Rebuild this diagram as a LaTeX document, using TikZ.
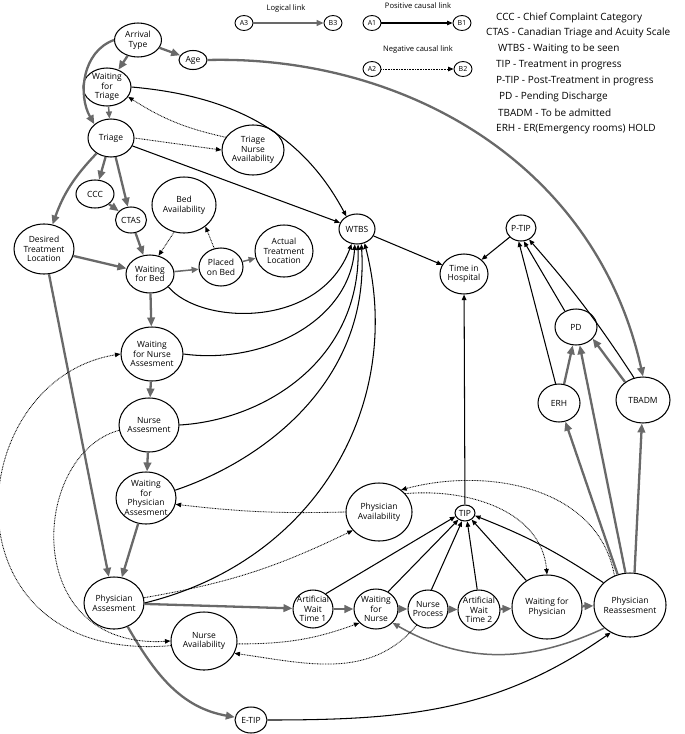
\documentclass[tikz,border=0pt]{standalone}
\usepackage{fontspec}
\setmainfont{Open Sans}
\usetikzlibrary{shapes.geometric,arrows.meta}
\definecolor{lgc}{RGB}{105,105,105}
\begin{document}
\begin{tikzpicture}[x=1pt,y=1pt,
  nd/.style={draw, ellipse, line width=1.05pt, inner sep=-8pt, align=center, font=\fontsize{8.5}{9.7}\selectfont},
  lnd/.style={draw, ellipse, line width=0.9pt, inner sep=-8pt, minimum width=18pt, minimum height=15pt, font=\fontsize{7}{8}\selectfont},
  logiclink/.style={draw=lgc, line width=2.3pt, -{Triangle[length=9pt,width=7.5pt]}},
  logicthin/.style={draw=lgc, line width=1.5pt, -{Triangle[length=7pt,width=6pt]}},
  poslink/.style={draw=black, line width=1.05pt, -{Triangle[length=5.5pt,width=4.5pt]}},
  neglink/.style={draw=black, line width=0.85pt, dash pattern=on 0.8pt off 0.8pt, -{Triangle[length=5.5pt,width=4.5pt]}},
  lt/.style={anchor=west, inner sep=0pt, font=\fontsize{10}{12}\selectfont},
  lh/.style={inner sep=0pt, font=\fontsize{7.6}{9}\selectfont}
]
\useasboundingbox (0,0) rectangle (685,-734);

% ---------- legend ----------
\node[lh] (hl) at (286,-9) {Logical link};
\node[lnd] (a3) at (244,-23) {A3};
\node[lnd] (b3) at (333,-23) {B3};
\draw[logicthin] (a3) -- (b3);
\node[lh] (hp) at (418,-6) {Positive causal link};
\node[lnd] (a1) at (372,-23) {A1};
\node[lnd] (b1) at (462,-23) {B1};
\draw[poslink] (a1) -- (b1);
\node[lh] (hn) at (418,-50) {Negative causal link};
\node[lnd] (a2) at (372,-69) {A2};
\node[lnd] (b2) at (463,-69) {B2};
\draw[neglink] (a2) -- (b2);

\node[lt] (l1) at (496,-18) {CCC - Chief Complaint Category};
\node[lt] (l2) at (486,-33) {CTAS - Canadian Triage and Acuity Scale};
\node[lt] (l3) at (498,-49) {WTBS - Waiting to be seen};
\node[lt] (l4) at (496,-65) {TIP - Treatment in progress};
\node[lt] (l5) at (496,-81) {P-TIP - Post-Treatment in progress};
\node[lt] (l6) at (499,-97) {PD - Pending Discharge};
\node[lt] (l7) at (498,-113) {TBADM - To be admitted};
\node[lt] (l8) at (496,-129) {ERH - ER(Emergency rooms) HOLD};

% ---------- nodes ----------
\node[nd,minimum width=47pt,minimum height=34pt] (at) at (138,-40) {Arrival\\Type};
\node[nd,minimum width=28pt,minimum height=19pt] (age) at (193,-60) {Age};
\node[nd,minimum width=48pt,minimum height=38pt] (wft) at (107,-87) {Waiting\\for\\Triage};
\node[nd,minimum width=46pt,minimum height=38pt] (tri) at (111,-138) {Triage};
\node[nd,minimum width=62pt,minimum height=50pt] (tna) at (253,-150) {Triage\\Nurse\\Availability};
\node[nd,minimum width=38pt,minimum height=28pt] (ccc) at (95,-194) {CCC};
\node[nd,minimum width=31pt,minimum height=26pt] (ctas) at (131,-220) {CTAS};
\node[nd,minimum width=64pt,minimum height=56pt] (bed) at (184,-205) {Bed\\Availability};
\node[nd,minimum width=60pt,minimum height=50pt] (dtl) at (44,-249) {Desired\\Treatment\\Location};
\node[nd,minimum width=58pt,minimum height=52pt] (atl) at (284,-251) {Actual\\Treatment\\Location};
\node[nd,minimum width=48pt,minimum height=38pt] (wfb) at (150,-274) {Waiting\\for Bed};
\node[nd,minimum width=44pt,minimum height=38pt] (pob) at (221,-267) {Placed\\on Bed};
\node[nd,minimum width=62pt,minimum height=54pt] (wfna) at (152,-354) {Waiting\\for Nurse\\Assesment};
\node[nd,minimum width=60pt,minimum height=54pt] (na) at (149,-425) {Nurse\\Assesment};
\node[nd,minimum width=60pt,minimum height=52pt] (wfpa) at (146,-498) {Waiting\\for\\Physician\\Assesment};
\node[nd,minimum width=60pt,minimum height=52pt] (pa) at (114,-603) {Physician\\Assesment};
\node[nd,minimum width=66pt,minimum height=58pt] (nav) at (204,-641) {Nurse\\Availability};
\node[nd,minimum width=40pt,minimum height=38pt] (awt1) at (313,-609) {Artificial\\Wait\\Time 1};
\node[nd,minimum width=32pt,minimum height=26pt] (etip) at (251,-720) {E-TIP};
\node[nd,minimum width=66pt,minimum height=58pt] (pav) at (379,-512) {Physician\\Availability};
\node[nd,minimum width=20pt,minimum height=16pt] (tip) at (465,-513) {TIP};
\node[nd,minimum width=44pt,minimum height=40pt] (wfn) at (376,-609) {Waiting\\for\\Nurse};
\node[nd,minimum width=40pt,minimum height=38pt] (np) at (428,-609) {Nurse\\Process};
\node[nd,minimum width=42pt,minimum height=40pt] (awt2) at (479,-610) {Artificial\\Wait\\Time 2};
\node[nd,minimum width=70pt,minimum height=64pt] (wfp) at (547,-607) {Waiting for\\Physician};
\node[nd,minimum width=72pt,minimum height=64pt] (pr) at (630,-605) {Physician\\Reassesment};
\node[nd,minimum width=36pt,minimum height=30pt] (wtbs) at (357,-229) {WTBS};
\node[nd,minimum width=48pt,minimum height=40pt] (tih) at (464,-274) {Time in\\Hospital};
\node[nd,minimum width=30pt,minimum height=26pt] (ptip) at (521,-228) {P-TIP};
\node[nd,minimum width=42pt,minimum height=36pt] (pd) at (576,-327) {PD};
\node[nd,minimum width=42pt,minimum height=38pt] (erh) at (559,-403) {ERH};
\node[nd,minimum width=54pt,minimum height=46pt] (tbadm) at (643,-400) {TBADM};

% ---------- logical links ----------
\draw[logiclink] (at) -- (age);
\draw[logiclink] (at) -- (wft);
\draw[logiclink] (at.west) to[out=200,in=120] (tri.north west);
\draw[logicthin] (wft) -- (tri);
\draw[logiclink] (age.east) .. controls (400,-55) and (595,-160) .. (tbadm.north);
\draw[logiclink] (tri) -- (ccc);
\draw[logiclink] (tri) -- (ctas);
\draw[logiclink] (ccc) -- (ctas);
\draw[logiclink] (tri) to[bend right=12] (dtl);
\draw[logiclink] (ctas) -- (wfb);
\draw[logiclink] (dtl) -- (wfb);
\draw[logiclink] (dtl) -- (pa);
\draw[logicthin] (wfb) -- (pob);
\draw[logicthin] (pob) -- (atl);
\draw[logiclink] (wfb) -- (wfna);
\draw[logiclink] (wfna) -- (na);
\draw[logiclink] (na) -- (wfpa);
\draw[logiclink] (wfpa) -- (pa);
\draw[logiclink] (pa) -- (awt1);
\draw[logiclink] (pa) to[out=-60,in=170] (etip);
\draw[logiclink] (awt1) -- (wfn);
\draw[logiclink] (wfn) -- (np);
\draw[logiclink] (np) -- (awt2);
\draw[logiclink] (awt2) -- (wfp);
\draw[logiclink] (wfp) -- (pr);
\draw[logicthin] (pr.222) to[out=205,in=-30] (wfn.-40);
\draw[logiclink] (pr.112) -- (erh);
\draw[logiclink] (pr.98) -- (pd);
\draw[logiclink] (pr.82) -- (tbadm);
\draw[logiclink] (erh.75) -- (pd.260);
\draw[logiclink] (tbadm.135) -- (pd.-35);

% ---------- positive causal links ----------
\draw[poslink] (wft.east) to[out=-5,in=118] (wtbs.130);
\draw[poslink] (tri) -- (wtbs);
\draw[poslink] (wfb.-35) .. controls (200,-325) and (320,-330) .. (wtbs.250);
\draw[poslink] (wfna.east) .. controls (265,-365) and (350,-320) .. (wtbs.262);
\draw[poslink] (na.east) .. controls (265,-420) and (360,-360) .. (wtbs.274);
\draw[poslink] (wfpa.15) .. controls (265,-460) and (370,-380) .. (wtbs.286);
\draw[poslink] (pa.east) .. controls (320,-560) and (405,-400) .. (wtbs.298);
\draw[poslink] (wtbs) -- (tih);
\draw[poslink] (ptip) -- (tih);
\draw[poslink] (tip) -- (tih);
\draw[poslink] (erh.100) -- (ptip.-100);
\draw[poslink] (pd.125) -- (ptip.-78);
\draw[poslink] (tbadm.112) to[bend right=4] (ptip.-55);
\draw[poslink] (awt1.50) -- (tip.200);
\draw[poslink] (wfn.55) -- (tip.225);
\draw[poslink] (np.80) -- (tip.250);
\draw[poslink] (awt2.95) -- (tip.285);
\draw[poslink] (wfp.128) -- (tip.315);
\draw[poslink] (pr.140) to[bend right=6] (tip.345);
\draw[poslink] (etip.east) to[out=0,in=215] (pr.235);

% ---------- negative causal links ----------
\draw[neglink] (tna.155) to[bend left=10] (wft.-25);
\draw[neglink] (tri.east) -- (tna.west);
\draw[neglink] (bed.250) -- (wfb.65);
\draw[neglink] (pob.110) -- (bed.-45);
\draw[neglink] (na.190) .. controls (30,-455) and (20,-650) .. (nav.west);
\draw[neglink] (nav.188) .. controls (-60,-665) and (-40,-380) .. (wfna.west);
\draw[neglink] (pa.10) to[bend right=8] (pav.215);
\draw[neglink] (pav.west) to[bend left=4] (wfpa.-12);
\draw[neglink] (pav.35) to[out=5,in=95] (wfp.north);
\draw[neglink] (pr.118) to[out=100,in=15] (pav.45);
\draw[neglink] (nav.-5) to[out=0,in=200] (wfn.220);
\draw[neglink] (np.235) to[out=230,in=-8] (nav.-22);
\end{tikzpicture}
\end{document}
